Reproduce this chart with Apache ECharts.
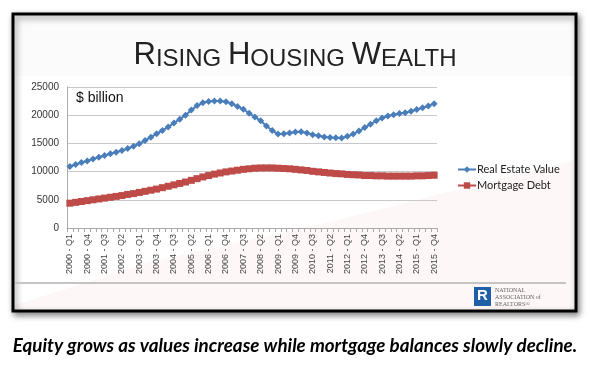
<!DOCTYPE html>
<html>
<head>
<meta charset="utf-8">
<script src="https://cdn.jsdelivr.net/npm/echarts@6/dist/echarts.min.js"></script>
<style>
html,body{margin:0;padding:0;background:#fff;}
#chart{width:590px;height:368px;}
</style>
</head>
<body>
<div id="chart"></div>
<script>
var categories = [
 "2000 - Q1","2000 - Q2","2000 - Q3","2000 - Q4",
 "2001 - Q1","2001 - Q2","2001 - Q3","2001 - Q4",
 "2002 - Q1","2002 - Q2","2002 - Q3","2002 - Q4",
 "2003 - Q1","2003 - Q2","2003 - Q3","2003 - Q4",
 "2004 - Q1","2004 - Q2","2004 - Q3","2004 - Q4",
 "2005 - Q1","2005 - Q2","2005 - Q3","2005 - Q4",
 "2006 - Q1","2006 - Q2","2006 - Q3","2006 - Q4",
 "2007 - Q1","2007 - Q2","2007 - Q3","2007 - Q4",
 "2008 - Q1","2008 - Q2","2008 - Q3","2008 - Q4",
 "2009 - Q1","2009 - Q2","2009 - Q3","2009 - Q4",
 "2010 - Q1","2010 - Q2","2010 - Q3","2010 - Q4",
 "2011 - Q1","2011 - Q2","2011 - Q3","2011 - Q4",
 "2012 - Q1","2012 - Q2","2012 - Q3","2012 - Q4",
 "2013 - Q1","2013 - Q2","2013 - Q3","2013 - Q4",
 "2014 - Q1","2014 - Q2","2014 - Q3","2014 - Q4",
 "2015 - Q1","2015 - Q2","2015 - Q3","2015 - Q4"
];
var realEstateValue = [
 10900,11250,11600,11900, 12250,12550,12850,13150,
 13450,13750,14100,14500, 14950,15500,16100,16700,
 17300,17900,18600,19300, 20000,20900,21700,22200,
 22450,22500,22500,22400, 22050,21550,21050,20350,
 19700,19000,18100,17300, 16650,16700,16850,17000,
 17050,16850,16550,16350, 16150,16050,16000,15950,
 16250,16650,17200,17800, 18400,19000,19500,19850,
 20100,20300,20450,20700, 21000,21300,21650,22050
];
var mortgageDebt = [
 4400,4550,4700,4850, 5000,5150,5300,5450,
 5600,5750,5950,6100, 6300,6500,6700,6900,
 7150,7400,7650,7900, 8150,8450,8750,9050,
 9300,9550,9750,9950, 10100,10250,10400,10500,
 10600,10650,10650,10650, 10600,10550,10500,10400,
 10300,10200,10050,9950, 9850,9750,9650,9600,
 9500,9450,9400,9300, 9300,9250,9250,9200,
 9200,9200,9200,9200, 9250,9250,9300,9350
];
var yTicks = [0,5000,10000,15000,20000,25000];
var seriesNames = ["Real Estate Value","Mortgage Debt"];
var titleParts = ["R","ISING ","H","OUSING ","W","EALTH"];
var unitLabel = "$ billion";
var caption = "Equity grows as values increase while mortgage balances slowly decline.";

var chart = echarts.init(document.getElementById('chart'), null, {renderer:'canvas'});
var titleText = titleParts.map(function(p,i){ return (i%2===0?'{a|':'{b|') + p + '}'; }).join('');

chart.setOption({
  animation:false,
  backgroundColor:'#ffffff',
  graphic:[
    {type:'rect', z:-10, shape:{x:13,y:14,width:563,height:297},
     style:{fill:'#ffffff', stroke:'#000', lineWidth:3, shadowBlur:6, shadowColor:'rgba(0,0,0,0.45)', shadowOffsetX:2, shadowOffsetY:3}},
    {type:'polygon', z:-9, shape:{points:[[15,305],[150,262],[330,222],[574,160],[574,309],[15,309]]},
     style:{fill:'rgba(200,60,60,0.045)'}},
    {type:'rect', z:-9, shape:{x:15,y:16,width:559,height:60}, style:{fill:'rgba(150,150,150,0.04)'}},
    {type:'line', z:-5, shape:{x1:15,y1:283,x2:566,y2:283}, style:{stroke:'#c4c4c4', lineWidth:2}},
    {type:'text', left:76, top:91, style:{text:unitLabel, font:'14px "Liberation Sans", Arial, sans-serif', fill:'#111'}},
    {type:'rect', shape:{x:474,y:287,width:17,height:19}, style:{fill:'#1f5fa8'}},
    {type:'text', left:477, top:288, style:{text:'R', font:'bold 15px "Liberation Sans", Arial, sans-serif', fill:'#fff'}},
    {type:'text', left:495, top:287, style:{text:'NATIONAL\nASSOCIATION of\nREALTORS®', font:'6px "Liberation Serif", serif', fill:'#666', lineHeight:7}},
    {type:'text', left:'center', top:336, style:{text:caption, font:'italic bold 18.8px Lato, sans-serif', fill:'#000'}}
  ],
  title:{
    text:titleText, left:'center', top:35,
    textStyle:{fontWeight:'normal', rich:{
      a:{fontSize:31, fontWeight:'normal', fontFamily:'"Liberation Sans", Arial, sans-serif', color:'#222', verticalAlign:'bottom'},
      b:{fontSize:24, fontWeight:'normal', fontFamily:'"Liberation Sans", Arial, sans-serif', color:'#222', verticalAlign:'bottom'}
    }}
  },
  legend:{
    orient:'vertical', left:452, top:159, itemGap:5, itemWidth:18, itemHeight:8,
    data:[seriesNames[0], seriesNames[1]],
    textStyle:{fontSize:11, fontFamily:'Lato, sans-serif', color:'#222', padding:[0,0,0,-4]}
  },
  grid:{left:67, right:153, top:87, bottom:140, containLabel:false},
  xAxis:{
    type:'category', data:categories, boundaryGap:true,
    axisLine:{show:true, lineStyle:{color:'#aaa'}},
    axisTick:{show:true, interval:0, length:4, lineStyle:{color:'#aaa'}},
    axisLabel:{interval:2, rotate:90, fontSize:9, color:'#444', margin:6, fontFamily:'"Liberation Sans", Arial, sans-serif'}
  },
  yAxis:{
    type:'value', min:yTicks[0], max:yTicks[yTicks.length-1], interval:yTicks[1]-yTicks[0],
    axisLine:{show:true, lineStyle:{color:'#aaa'}},
    axisTick:{show:false},
    splitLine:{lineStyle:{color:'#c8c8c8'}},
    axisLabel:{fontSize:10, color:'#333', margin:8, fontFamily:'"Liberation Sans", Arial, sans-serif',
      formatter:function(v){ return String(v); }}
  },
  series:[
    {name:seriesNames[0], type:'line', data:realEstateValue, symbol:'diamond', symbolSize:7, showAllSymbol:true,
     itemStyle:{color:'#4a7ebb'}, lineStyle:{color:'#4a7ebb', width:2}},
    {name:seriesNames[1], type:'line', data:mortgageDebt, symbol:'rect', symbolSize:7, showAllSymbol:true,
     itemStyle:{color:'#be4b48'}, lineStyle:{color:'#be4b48', width:2}}
  ]
});
</script>
</body>
</html>
